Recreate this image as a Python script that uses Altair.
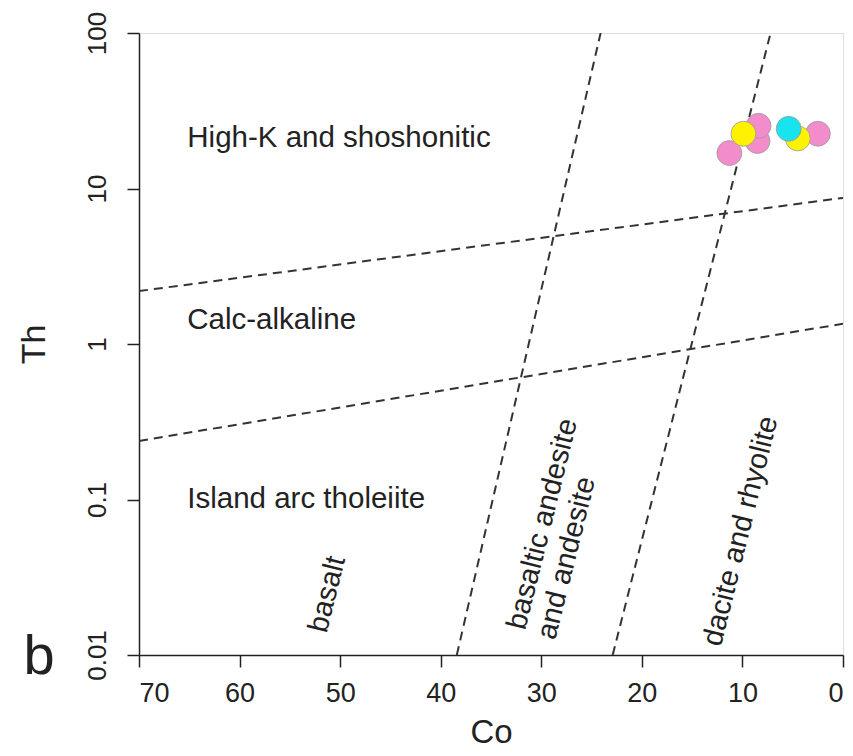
import altair as alt
import pandas as pd

# ---- data ----
co_vals = [11.3, 8.5, 8.4, 2.5, 9.9, 4.5, 5.4]
th_vals = [16.9, 20.2, 25.3, 22.5, 22.5, 21.0, 24.2]
groups = ["pink", "pink", "pink", "pink", "yellow", "yellow", "cyan"]
group_colors = ["#F28CCB", "#FFF200", "#19E3EE"]
group_names = ["pink", "yellow", "cyan"]

# boundary lines (two end points each)
line_ids = ["upper", "upper", "lower", "lower", "v1", "v1", "v2", "v2"]
line_co = [70, 0, 70, 0, 38.4, 24.1, 22.9, 7.2]
line_th = [2.19, 8.7, 0.238, 1.35, 0.01, 100, 0.01, 100]

# field labels
hlabels = ["High-K and shoshonitic", "Calc-alkaline", "Island arc tholeiite"]
hlabel_co = [65.2, 65.2, 65.2]
hlabel_th = [21.2, 1.43, 0.1006]

rlabels = ["basalt", "basaltic andesite", "and andesite", "dacite and rhyolite"]
rlabel_co = [51.3, 29.9, 27.5, 10.2]
rlabel_th = [0.0246, 0.0695, 0.042, 0.0626]

x_ticks = [0, 10, 20, 30, 40, 50, 60, 70]
y_ticks = [0.01, 0.1, 1, 10, 100]

FONT = "Liberation Sans"

pts = pd.DataFrame({"Co": co_vals, "Th": th_vals, "g": groups})
lines = pd.DataFrame({"id": line_ids, "Co": line_co, "Th": line_th})
hl = pd.DataFrame({"t": hlabels, "Co": hlabel_co, "Th": hlabel_th})
rl = pd.DataFrame({"t": rlabels, "Co": rlabel_co, "Th": rlabel_th})

xs = alt.Scale(domain=[0, 70], reverse=True, nice=False)
ys = alt.Scale(type="log", domain=[0.01, 100], nice=False)

xax = alt.Axis(values=x_ticks, grid=False, tickSize=12, tickWidth=1.5, tickColor="#222",
               domainColor="#222", domainWidth=1.5, labelFont=FONT, labelFontSize=27,
               labelColor="#222", labelPadding=13, title="Co", titleFont=FONT,
               titleFontSize=33, titleFontWeight="normal", titleColor="#222", titlePadding=10)
yax = alt.Axis(values=y_ticks, grid=False, tickSize=12, tickWidth=1.5, tickColor="#222",
               domainColor="#222", domainWidth=1.5, labelFont=FONT, labelFontSize=26,
               labelColor="#222", labelAngle=270, labelAlign="center",
               labelBaseline="alphabetic", labelPadding=22,
               labelExpr="datum.value >= 1 ? format(datum.value, 'd') : format(datum.value, '.2~f')",
               title="Th", titleFont=FONT, titleFontSize=34, titleFontWeight="normal",
               titleColor="#222", titlePadding=33)

base_x = alt.X("Co:Q", scale=xs, axis=xax)
base_y = alt.Y("Th:Q", scale=ys, axis=yax)

line_layer = alt.Chart(lines).mark_line(
    color="#333", strokeDash=[9, 6], strokeWidth=2, clip=True
).encode(x=base_x, y=base_y, detail="id:N")

pt_layer = alt.Chart(pts).transform_calculate(
    order="datum.g == 'pink' ? 0 : (datum.g == 'yellow' ? 1 : 2)"
).mark_circle(size=620, opacity=1, stroke="#999", strokeWidth=0.8).encode(
    x=alt.X("Co:Q", scale=xs),
    y=alt.Y("Th:Q", scale=ys),
    color=alt.Color("g:N", scale=alt.Scale(domain=group_names, range=group_colors), legend=None),
    order=alt.Order("order:Q"),
)

hl_layer = alt.Chart(hl).mark_text(
    font=FONT, fontSize=29.5, align="left", baseline="middle", color="#222"
).encode(x=alt.X("Co:Q", scale=xs), y=alt.Y("Th:Q", scale=ys), text="t:N")

rl_layer = alt.Chart(rl).mark_text(
    font=FONT, fontSize=29, align="center", baseline="middle", color="#222", angle=284
).encode(x=alt.X("Co:Q", scale=xs), y=alt.Y("Th:Q", scale=ys), text="t:N")

b_layer = alt.Chart(pd.DataFrame({"t": ["b"]})).mark_text(
    font=FONT, fontSize=56, align="center", baseline="alphabetic", color="#222"
).encode(x=alt.value(-100), y=alt.value(641), text="t:N")

chart = alt.layer(line_layer, pt_layer, hl_layer, rl_layer, b_layer).properties(
    width=704, height=622,
    padding={"left": 139, "top": 33, "right": 10, "bottom": 101},
    autosize=alt.AutoSizeParams(type="none"),
).configure_view(stroke="#222", strokeWidth=1.5).configure(background="white")

chart.save("out.html", embed_options={"renderer": "svg", "actions": False})
